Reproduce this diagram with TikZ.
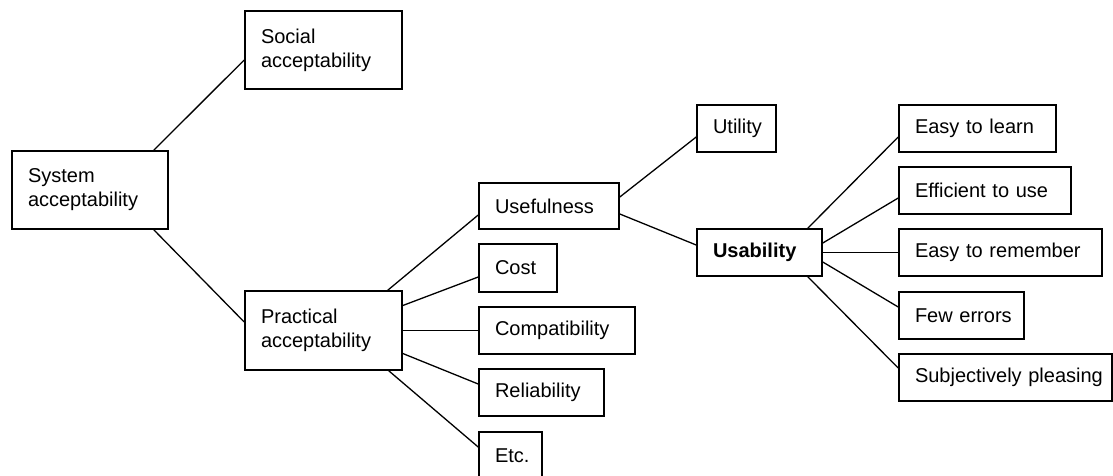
\documentclass[tikz,border=0pt]{standalone}
\usepackage{fontspec}
\setmainfont{Liberation Sans}
\begin{document}
\begin{tikzpicture}[x=1pt,y=-1pt,
  box/.style={draw, line width=1.6pt, rectangle, inner xsep=16pt, inner ysep=0pt,
    align=left, font=\fontsize{20}{24}\selectfont, anchor=center},
  link/.style={line width=1.3pt}]
\useasboundingbox (0,0) rectangle (1113,475);
% box of given width and height, text set flush left
\newcommand{\mybox}[5]{\node[box, text width=#3pt-32pt, minimum width=#3pt, minimum height=#4pt] (#1) at #2 {#5};}
% single-line box: the label never wraps
\newcommand{\onebox}[5]{\mybox{#1}{#2}{#3}{#4}{\mbox{#5}}}

\mybox{sys}{(90,190)}{156}{78}{System\\acceptability}
\mybox{soc}{(323.5,50)}{157}{78}{Social\\acceptability}
\mybox{prac}{(323.5,330.5)}{157}{79}{Practical\\acceptability}

\onebox{usef}{(549,206)}{140}{46}{Usefulness}
\onebox{cost}{(518,268)}{78}{48}{Cost}
\onebox{comp}{(557,330.5)}{156}{47}{Compatibility}
\onebox{rel}{(541.5,392.5)}{125}{47}{Reliability}
\onebox{etc}{(510.5,455.5)}{63}{47}{Etc.}

\onebox{util}{(736.5,128.5)}{79}{47}{Utility}
\onebox{usab}{(759.5,252.5)}{125}{47}{\textbf{Usability}}

\onebox{learn}{(977.5,128.5)}{157}{47}{Easy to learn}
\onebox{eff}{(985,190.5)}{172}{47}{Efficient to use}
\onebox{rem}{(1000.5,252.5)}{203}{47}{Easy to remember}
\onebox{few}{(961.5,315.5)}{125}{47}{Few errors}
\onebox{subj}{(1005.5,377.5)}{213}{47}{Subjectively pleasing}

% connectors
\draw[link] ([xshift=-15pt]sys.north east) -- ([yshift=-10pt]soc.west);
\draw[link] ([xshift=-15pt]sys.south east) -- ([yshift=8.5pt]prac.west);

\draw[link] ([xshift=-15pt]prac.north east) -- ([yshift=-9pt]usef.west);
\draw[link] ([yshift=25pt]prac.east) -- ([yshift=-9pt]cost.west);
\draw[link] (prac.east) -- (comp.west);
\draw[link] ([yshift=-23pt]prac.east) -- ([yshift=8.5pt]rel.west);
\draw[link] ([xshift=-14pt]prac.south east) -- ([yshift=8.5pt]etc.west);

\draw[link] ([yshift=9pt]usef.east) -- ([yshift=-8.5pt]util.west);
\draw[link] ([yshift=-8pt]usef.east) -- ([yshift=7.5pt]usab.west);

\draw[link] ([xshift=-15pt]usab.north east) -- ([yshift=-8.5pt]learn.west);
\draw[link] ([yshift=9.5pt]usab.east) -- ([yshift=-7.5pt]eff.west);
\draw[link] (usab.east) -- (rem.west);
\draw[link] ([yshift=-9.5pt]usab.east) -- ([yshift=8.5pt]few.west);
\draw[link] ([xshift=-15pt]usab.south east) -- ([yshift=9.5pt]subj.west);
\end{tikzpicture}
\end{document}
